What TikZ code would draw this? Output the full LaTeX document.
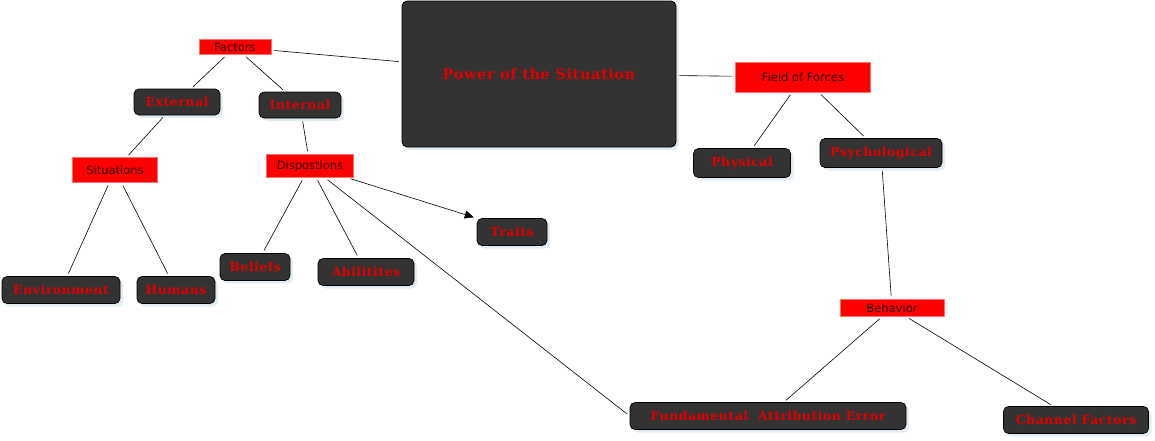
\documentclass[tikz,border=0pt]{standalone}
\usepackage{fontspec}
\setmainfont{DejaVu Sans}
\newfontfamily\decofont{DejaVu Serif}[LetterSpace=4]
\usetikzlibrary{shadows,arrows.meta}
\definecolor{darkbox}{HTML}{333333}
\definecolor{redtxt}{HTML}{E00000}
\definecolor{redfill}{HTML}{FF0000}
\definecolor{redline}{HTML}{FF7070}
\definecolor{shadowblue}{HTML}{E2EDF3}
\definecolor{redlabel}{HTML}{2A0000}
\tikzset{
  darknode/.style={draw=black, line width=0.7pt, fill=darkbox, rounded corners=5pt, text=redtxt,
    font=\decofont\bfseries\fontsize{12.5}{14}\selectfont, inner sep=0pt,
    drop shadow={fill=shadowblue, shadow xshift=3pt, shadow yshift=-3pt, opacity=1}},
  rednode/.style={draw=redline, line width=0.6pt, fill=redfill, text=redlabel,
    font=\fontsize{11.5}{13}\selectfont, inner sep=0pt},
  conn/.style={draw=black, line width=0.6pt, shorten >=3pt, shorten <=3pt},
  arrowconn/.style={conn, -{Triangle[length=9pt,width=8pt]}}
}
\begin{document}
\begin{tikzpicture}[x=1pt,y=-1pt]
\useasboundingbox[fill=white] (0,0) rectangle (1155,440);

\node[darknode, minimum width=274, minimum height=146, font=\decofont\bfseries\fontsize{14.5}{16}\selectfont] (power) at (539,74) {Power of the Situation};
\node[rednode, minimum width=72, minimum height=15] (fac) at (235,47) {Factors};
\node[rednode, minimum width=135, minimum height=30] (fof) at (803,77) {Field of Forces};
\node[darknode, minimum width=86, minimum height=26] (ext) at (177,102) {External};
\node[darknode, minimum width=82, minimum height=26] (int) at (300,105) {Internal};
\node[rednode, minimum width=85, minimum height=25] (sit) at (115,170) {Situations};
\node[rednode, minimum width=87, minimum height=23] (disp) at (310,166) {Dispostions};
\node[darknode, minimum width=97, minimum height=29] (phys) at (742,163) {Physical};
\node[darknode, minimum width=122, minimum height=29] (psy) at (881,153) {Psychological};
\node[darknode, minimum width=70, minimum height=27] (traits) at (512,232) {Traits};
\node[darknode, minimum width=70, minimum height=27] (bel) at (255,267) {Beliefs};
\node[darknode, minimum width=96, minimum height=27] (abil) at (366,272) {Abilitites};
\node[darknode, minimum width=118, minimum height=27] (env) at (61,290) {Environment};
\node[darknode, minimum width=78, minimum height=27] (hum) at (176,290) {Humans};
\node[rednode, minimum width=104, minimum height=17] (beh) at (892,308) {Behavior};
\node[darknode, minimum width=276, minimum height=27] (fae) at (768,416) {Fundamental~~Attribution Error};
\node[darknode, minimum width=145, minimum height=27] (chan) at (1076,420) {Channel Factors};

\draw[conn] (fac) -- (power);
\draw[conn] (power) -- (fof);
\draw[conn] (fac) -- (ext);
\draw[conn] (fac) -- (int);
\draw[conn] (ext) -- (sit);
\draw[conn] (int) -- (disp);
\draw[conn] (sit) -- (env);
\draw[conn] (sit) -- (hum);
\draw[conn] (disp) -- (bel);
\draw[conn] (disp) -- (abil);
\draw[arrowconn] (disp) -- (traits.north west);
\draw[conn] (disp) -- (fae.west);
\draw[conn] (fof) -- (phys);
\draw[conn] (fof) -- (psy);
\draw[conn] (psy) -- (beh);
\draw[conn] (beh) -- (fae);
\draw[conn] (beh) -- (chan);
\end{tikzpicture}
\end{document}
